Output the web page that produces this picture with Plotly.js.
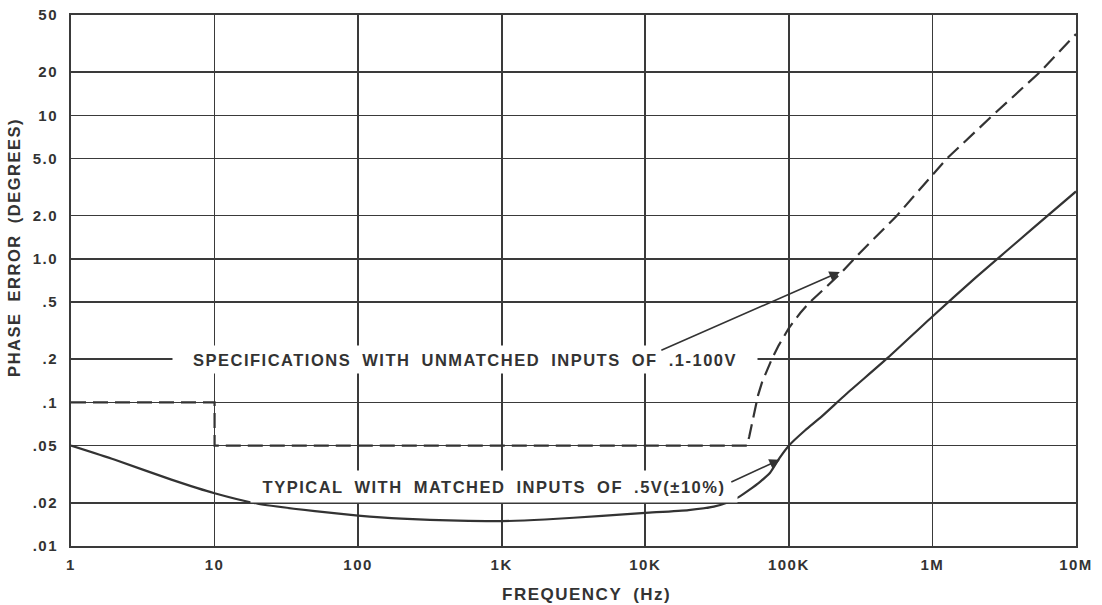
<!DOCTYPE html>
<html><head><meta charset="utf-8">
<script src="https://cdn.plot.ly/plotly-3.0.1.min.js"></script>
<style>
html,body{margin:0;padding:0;background:#fff;}
#chart{width:1102px;height:605px;}
.main-svg text{letter-spacing:1.5px;}
.main-svg g.annotation text{word-spacing:5px;}
</style></head><body><div id="chart"></div>
<script>
// Typical with matched inputs (solid)
const typFreq = [1, 2, 5, 10, 20, 50, 100, 200, 500, 1000, 2000, 5000, 10000, 20000, 30000, 37000, 45000, 53000, 63000, 74000, 86000, 100000, 130000, 165000, 250000, 490000, 1e6, 2e6, 5e6, 1e7];
const typErr  = [0.05, 0.040, 0.029, 0.0233, 0.0197, 0.0175, 0.0163, 0.0155, 0.0150, 0.0149, 0.0153, 0.0162, 0.0170, 0.0178, 0.0188, 0.020, 0.022, 0.0246, 0.028, 0.0324, 0.041, 0.05, 0.064, 0.078, 0.114, 0.205, 0.397, 0.74, 1.63, 2.95];
// Specifications with unmatched inputs (dashed)
const specFreq = [1, 10, 10, 51000, 53000, 55000, 58000, 61000, 65000, 70000, 76000, 85000, 100000, 120000, 140000, 180000, 234000, 312000, 565000, 1.26e6, 2.63e6, 5.6e6, 1e7];
const specErr  = [0.1, 0.1, 0.05, 0.05, 0.058, 0.07, 0.09, 0.112, 0.138, 0.165, 0.2, 0.25, 0.33, 0.42, 0.5, 0.63, 0.81, 1.1, 2.0, 5.0, 10, 20, 36.8];

const xTickVals = [1, 10, 100, 1e3, 1e4, 1e5, 1e6, 1e7];
const xTickText = ['1', '10', '100', '1K', '10K', '100K', '1M', '10M'];
const yTickVals = [0.01, 0.02, 0.05, 0.1, 0.2, 0.5, 1, 2, 5, 10, 20, 50];
const yTickText = ['.01', '.02', '.05', '.1', '.2', '.5', '1.0', '2.0', '5.0', '10', '20', '50'];

const specLabel = 'SPECIFICATIONS WITH UNMATCHED INPUTS OF .1-100V';
const typLabel = 'TYPICAL WITH MATCHED INPUTS OF .5V(\u00B110%)';
const xTitle = 'FREQUENCY (Hz)';
const yTitle = 'PHASE ERROR (DEGREES)';

const ink = '#333333';
const fontFam = '"Liberation Sans", Arial, sans-serif';
const lg = Math.log10;
const f = (s) => ({family: fontFam, size: s, color: ink, weight: 'bold'});

const traces = [
  {x: specFreq, y: specErr, mode: 'lines', name: 'Specifications',
   line: {color: ink, width: 2.2, dash: '15px,7px'}, hoverinfo: 'x+y'},
  {x: typFreq, y: typErr, mode: 'lines', name: 'Typical',
   line: {color: ink, width: 2.2, shape: 'spline', smoothing: 0.5}, hoverinfo: 'x+y'}
];

const layout = {
  width: 1102, height: 605,
  margin: {l: 71, r: 26, t: 15, b: 59},
  paper_bgcolor: '#ffffff', plot_bgcolor: '#ffffff',
  showlegend: false,
  font: f(15),
  xaxis: {
    type: 'log', range: [0, 7],
    tickvals: xTickVals, ticktext: xTickText,
    showgrid: true, gridcolor: '#3a3a3a', gridwidth: 1.6,
    showline: true, linecolor: '#3a3a3a', linewidth: 2, mirror: true,
    ticks: 'outside', ticklen: 4, tickcolor: 'rgba(0,0,0,0)',
    tickfont: f(15), zeroline: false
  },
  yaxis: {
    type: 'log', range: [-2, lg(50)],
    tickvals: yTickVals, ticktext: yTickText,
    showgrid: true, gridcolor: '#3a3a3a', gridwidth: 1.6,
    showline: true, linecolor: '#3a3a3a', linewidth: 2, mirror: true,
    ticks: 'outside', ticklen: 8, tickcolor: 'rgba(0,0,0,0)',
    tickfont: f(15), zeroline: false
  },
  annotations: [
    {x: 2.744, y: lg(0.2), xref: 'x', yref: 'y', text: specLabel, showarrow: false,
     width: 578, height: 21, align: 'center',
     bgcolor: '#ffffff', borderpad: 3, font: f(16.5)},
    {x: 2.946, y: -1.588, xref: 'x', yref: 'y', text: typLabel, showarrow: false,
     width: 480, height: 25, align: 'center',
     bgcolor: '#ffffff', borderpad: 3, font: f(16.5)},
    {x: 5.355, y: -0.091, xref: 'x', yref: 'y', text: '', showarrow: true,
     ax: -180, ay: 79, arrowhead: 2, arrowsize: 1.3, arrowwidth: 1.6, arrowcolor: ink},
    {x: 4.937, y: -1.399, xref: 'x', yref: 'y', text: '', showarrow: true,
     ax: -50, ay: 23, arrowhead: 2, arrowsize: 1.3, arrowwidth: 1.6, arrowcolor: ink},
    {x: 0.513, y: -0.092, xref: 'paper', yref: 'paper', text: xTitle, showarrow: false,
     xanchor: 'center', yanchor: 'middle', font: f(17)},
    {x: -0.0567, y: 0.561, xref: 'paper', yref: 'paper', text: yTitle, showarrow: false,
     textangle: -90, xanchor: 'center', yanchor: 'middle', font: f(16.5)}
  ]
};

Plotly.newPlot('chart', traces, layout, {displayModeBar: false, staticPlot: true});
</script></body></html>
